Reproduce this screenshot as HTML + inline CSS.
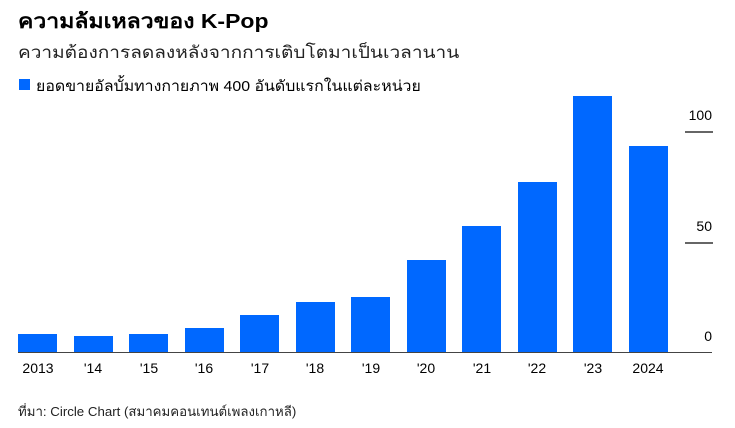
<!DOCTYPE html>
<html><head><meta charset="utf-8"><style>
body{margin:0;background:#fff;width:735px;height:428px;overflow:hidden;font-family:"Liberation Sans","Noto Sans CJK SC",sans-serif;color:#000}
.t{position:absolute;white-space:nowrap;transform-origin:left top}
.b{position:absolute;background:#0068ff;width:39px}
.x{position:absolute;top:360px;font-size:14px;width:56px;text-align:center}
.y{position:absolute;font-size:14px;right:23px}
.g{position:absolute;left:685px;width:28px;height:2px;background:#666}
</style></head><body>
<div class="t" style="left:18px;top:5px;font-size:20px;font-weight:bold;transform:scaleX(1.15)">ความล้มเหลวของ K-Pop</div>
<div class="t" style="left:18px;top:39px;font-size:17px;color:#222;transform:scaleX(1.12)">ความต้องการลดลงหลังจากการเติบโตมาเป็นเวลานาน</div>
<div style="position:absolute;left:19px;top:79px;width:11px;height:11px;background:#0068ff"></div>
<div class="t" style="left:36px;top:74px;font-size:15px;transform:scaleX(1.06)">ยอดขายอัลบั้มทางกายภาพ 400 อันดับแรกในแต่ละหน่วย</div>
<div class="g" style="top:131px"></div><div class="g" style="top:242px"></div>
<div class="y" style="top:107px">100</div><div class="y" style="top:218px">50</div><div class="y" style="top:328px">0</div>
<div class="b" style="left:18px;top:334px;height:19px"></div>
<div class="b" style="left:74px;top:336px;height:17px"></div>
<div class="b" style="left:129px;top:334px;height:19px"></div>
<div class="b" style="left:185px;top:328px;height:25px"></div>
<div class="b" style="left:240px;top:315px;height:38px"></div>
<div class="b" style="left:296px;top:302px;height:51px"></div>
<div class="b" style="left:351px;top:297px;height:56px"></div>
<div class="b" style="left:407px;top:260px;height:93px"></div>
<div class="b" style="left:462px;top:226px;height:127px"></div>
<div class="b" style="left:518px;top:182px;height:171px"></div>
<div class="b" style="left:573px;top:96px;height:257px"></div>
<div class="b" style="left:629px;top:146px;height:207px"></div>
<div style="position:absolute;left:18px;top:352px;width:694px;height:1px;background:#444"></div>
<div class="x" style="left:10px">2013</div><div class="x" style="left:65px">'14</div><div class="x" style="left:121px">'15</div><div class="x" style="left:176px">'16</div><div class="x" style="left:232px">'17</div><div class="x" style="left:287px">'18</div><div class="x" style="left:343px">'19</div><div class="x" style="left:398px">'20</div><div class="x" style="left:454px">'21</div><div class="x" style="left:509px">'22</div><div class="x" style="left:565px">'23</div><div class="x" style="left:620px">2024</div>
<div class="t" style="left:18px;top:401px;font-size:13px;color:#222;transform:scaleX(1.02)">ที่มา: Circle Chart (สมาคมคอนเทนต์เพลงเกาหลี)</div>
</body></html>
